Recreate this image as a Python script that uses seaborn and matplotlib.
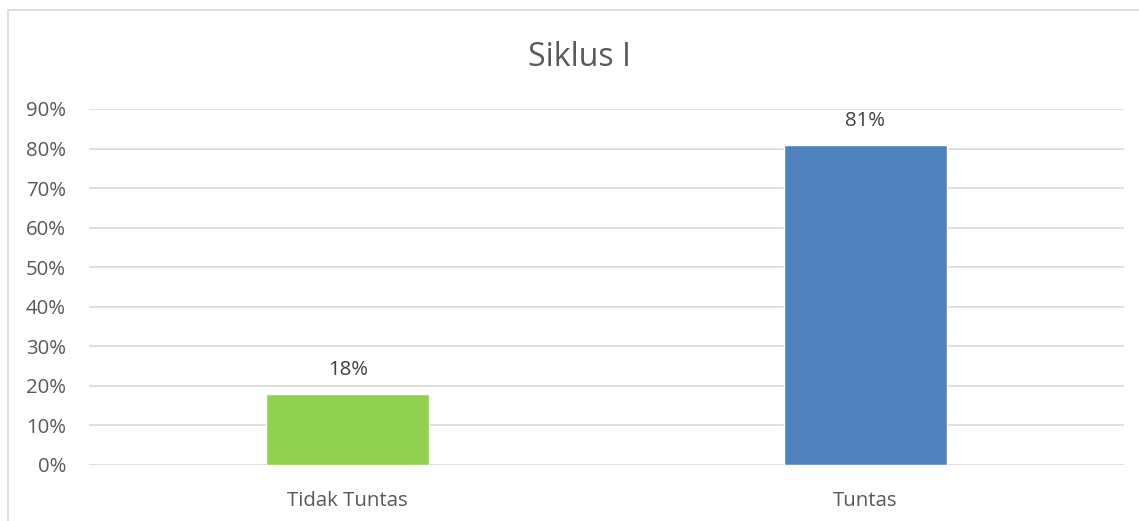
import matplotlib
matplotlib.use("Agg")
import matplotlib.pyplot as plt
import seaborn as sns
import pandas as pd
from matplotlib.patches import Rectangle
from matplotlib.ticker import PercentFormatter

categories = ["Tidak Tuntas", "Tuntas"]
values = [0.18, 0.81]
colors = ["#92D050", "#4F81BD"]
yticks = [0, 0.1, 0.2, 0.3, 0.4, 0.5, 0.6, 0.7, 0.8, 0.9]

sns.set_theme(style="white")
plt.rcParams["font.family"] = ["Open Sans", "DejaVu Sans"]

df = pd.DataFrame({"cat": categories, "val": values})

fig = plt.figure(figsize=(11.39, 5.21), dpi=100)
ax = fig.add_axes([89/1139, 1-465/521, (1124-89)/1139, (465-109)/521])

sns.barplot(data=df, x="cat", y="val", hue="cat", palette=colors, width=0.315,
            legend=False, ax=ax, zorder=3, saturation=1)

ax.set_ylim(0, 0.9)
ax.set_xlim(-0.5, 1.5)
ax.set_yticks(yticks)
ax.yaxis.set_major_formatter(PercentFormatter(1.0, decimals=0))
ax.grid(axis="y", color="#D9D9D9", linewidth=1.2, zorder=0)
ax.set_axisbelow(True)
for s in ax.spines.values():
    s.set_visible(False)
ax.set_xlabel("")
ax.set_ylabel("")
ax.tick_params(axis="y", labelsize=14.7, labelcolor="#595959", length=0, pad=16.5)
ax.tick_params(axis="x", labelsize=14.7, labelcolor="#595959", length=0, pad=19)

for i, v in enumerate(values):
    ax.text(i, v + 0.034, f"{round(v*100)}%", ha="center", va="bottom",
            fontsize=14.7, color="#404040")

fig.text(579/1139, 1-57/521, "Siklus I", ha="center", va="center",
         fontsize=23, color="#595959")

fig.patches.append(Rectangle((8/1139, -0.1), 1.2, 1-10/521+0.1,
                             transform=fig.transFigure, fill=False,
                             edgecolor="#D9D9D9", linewidth=1.2))

fig.savefig("out.png", dpi=100)
